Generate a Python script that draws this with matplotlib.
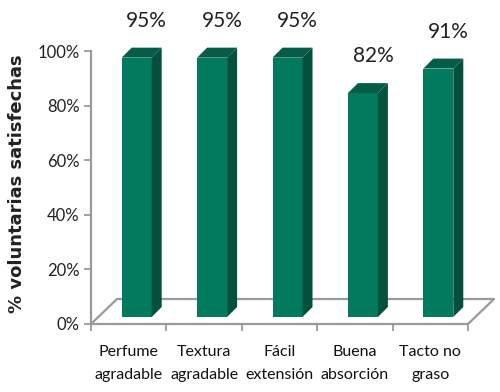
import numpy as np
import matplotlib
matplotlib.use("Agg")
import matplotlib.pyplot as plt
from matplotlib.patches import Polygon

categories = ["Perfume\nagradable", "Textura\nagradable", "Fácil\nextensión",
              "Buena\nabsorción", "Tacto no\ngraso"]
values = [95, 95, 95, 82, 91]
yticks = [0, 20, 40, 60, 80, 100]
ylabels = ["0%", "20%", "40%", "60%", "80%", "100%"]

plt.rcParams['font.family'] = ['Lato', 'DejaVu Sans']

fig = plt.figure(figsize=(5, 3.92), dpi=100)
# axes box in pixels: x 91..468, y 51..324 (from top)
ax = fig.add_axes([91 / 500, 68 / 392, 377 / 500, 273 / 392])
ax.set_xlim(-0.5, 4.5)
ax.set_ylim(0, 100)

px_x = 377 / 5.0     # pixels per category
px_y = 273 / 100.0   # pixels per percent

gray = "#9a9a9a"
front_c = "#017a5d"
side_c = "#03503d"
top_c = "#055c47"

# floor (pseudo 3d)
fdx, fdy = 26 / px_x, 25 / px_y
x_l, x_r = -0.5, 4.5
floor_x = [x_l, x_l + fdx, x_r + fdx, x_r]
floor_y = [0, fdy, fdy, 0]
ax.plot(floor_x, floor_y, color=gray, lw=1.6, clip_on=False, zorder=1)

# bars
off_x, off_y = 8 / px_x, 7 / px_y
bw = 30 / px_x
bdx, bdy = 10 / px_x, 10 / px_y
for i, v in enumerate(values):
    x0 = i + off_x - bw / 2
    x1 = x0 + bw
    y0 = off_y
    y1 = off_y + v
    ax.add_patch(Polygon([(x0, y0), (x1, y0), (x1, y1), (x0, y1)],
                         closed=True, fc=front_c, ec="none", zorder=3, clip_on=False))
    ax.add_patch(Polygon([(x1, y0), (x1 + bdx, y0 + bdy), (x1 + bdx, y1 + bdy), (x1, y1)],
                         closed=True, fc=side_c, ec="none", zorder=3, clip_on=False))
    ax.add_patch(Polygon([(x0, y1), (x0 + bdx, y1 + bdy), (x1 + bdx, y1 + bdy), (x1, y1)],
                         closed=True, fc=top_c, ec="none", zorder=3, clip_on=False))
    ax.text(i + off_x + bdx, y1 + 37 / px_y, f"{v}%", ha="center", va="center",
            fontsize=15, color="#222222", clip_on=False)

for s in ["top", "right"]:
    ax.spines[s].set_visible(False)
for s in ["left", "bottom"]:
    ax.spines[s].set_color(gray)
    ax.spines[s].set_linewidth(1.6)

ax.set_yticks(yticks)
ax.set_yticklabels(ylabels, fontsize=12, color="#222222")
ax.tick_params(axis="y", length=5, width=1.3, color=gray, pad=3)

ax.set_xticks(np.arange(len(categories)))
ax.set_xticklabels(categories, fontsize=11.5, color="#111111", linespacing=1.8)
ax.set_xticks(np.arange(-0.5, 5.0, 1.0), minor=True)
ax.tick_params(axis="x", which="major", length=0, pad=15)
ax.tick_params(axis="x", which="minor", length=5, width=1.3, color=gray)

fig.text(17 / 500, 1 - 184 / 392, "% voluntarias satisfechas", rotation=90,
         ha="center", va="center", fontsize=13, fontweight="bold",
         color="#222222", family="DejaVu Sans")

fig.savefig("out.png", dpi=100)
